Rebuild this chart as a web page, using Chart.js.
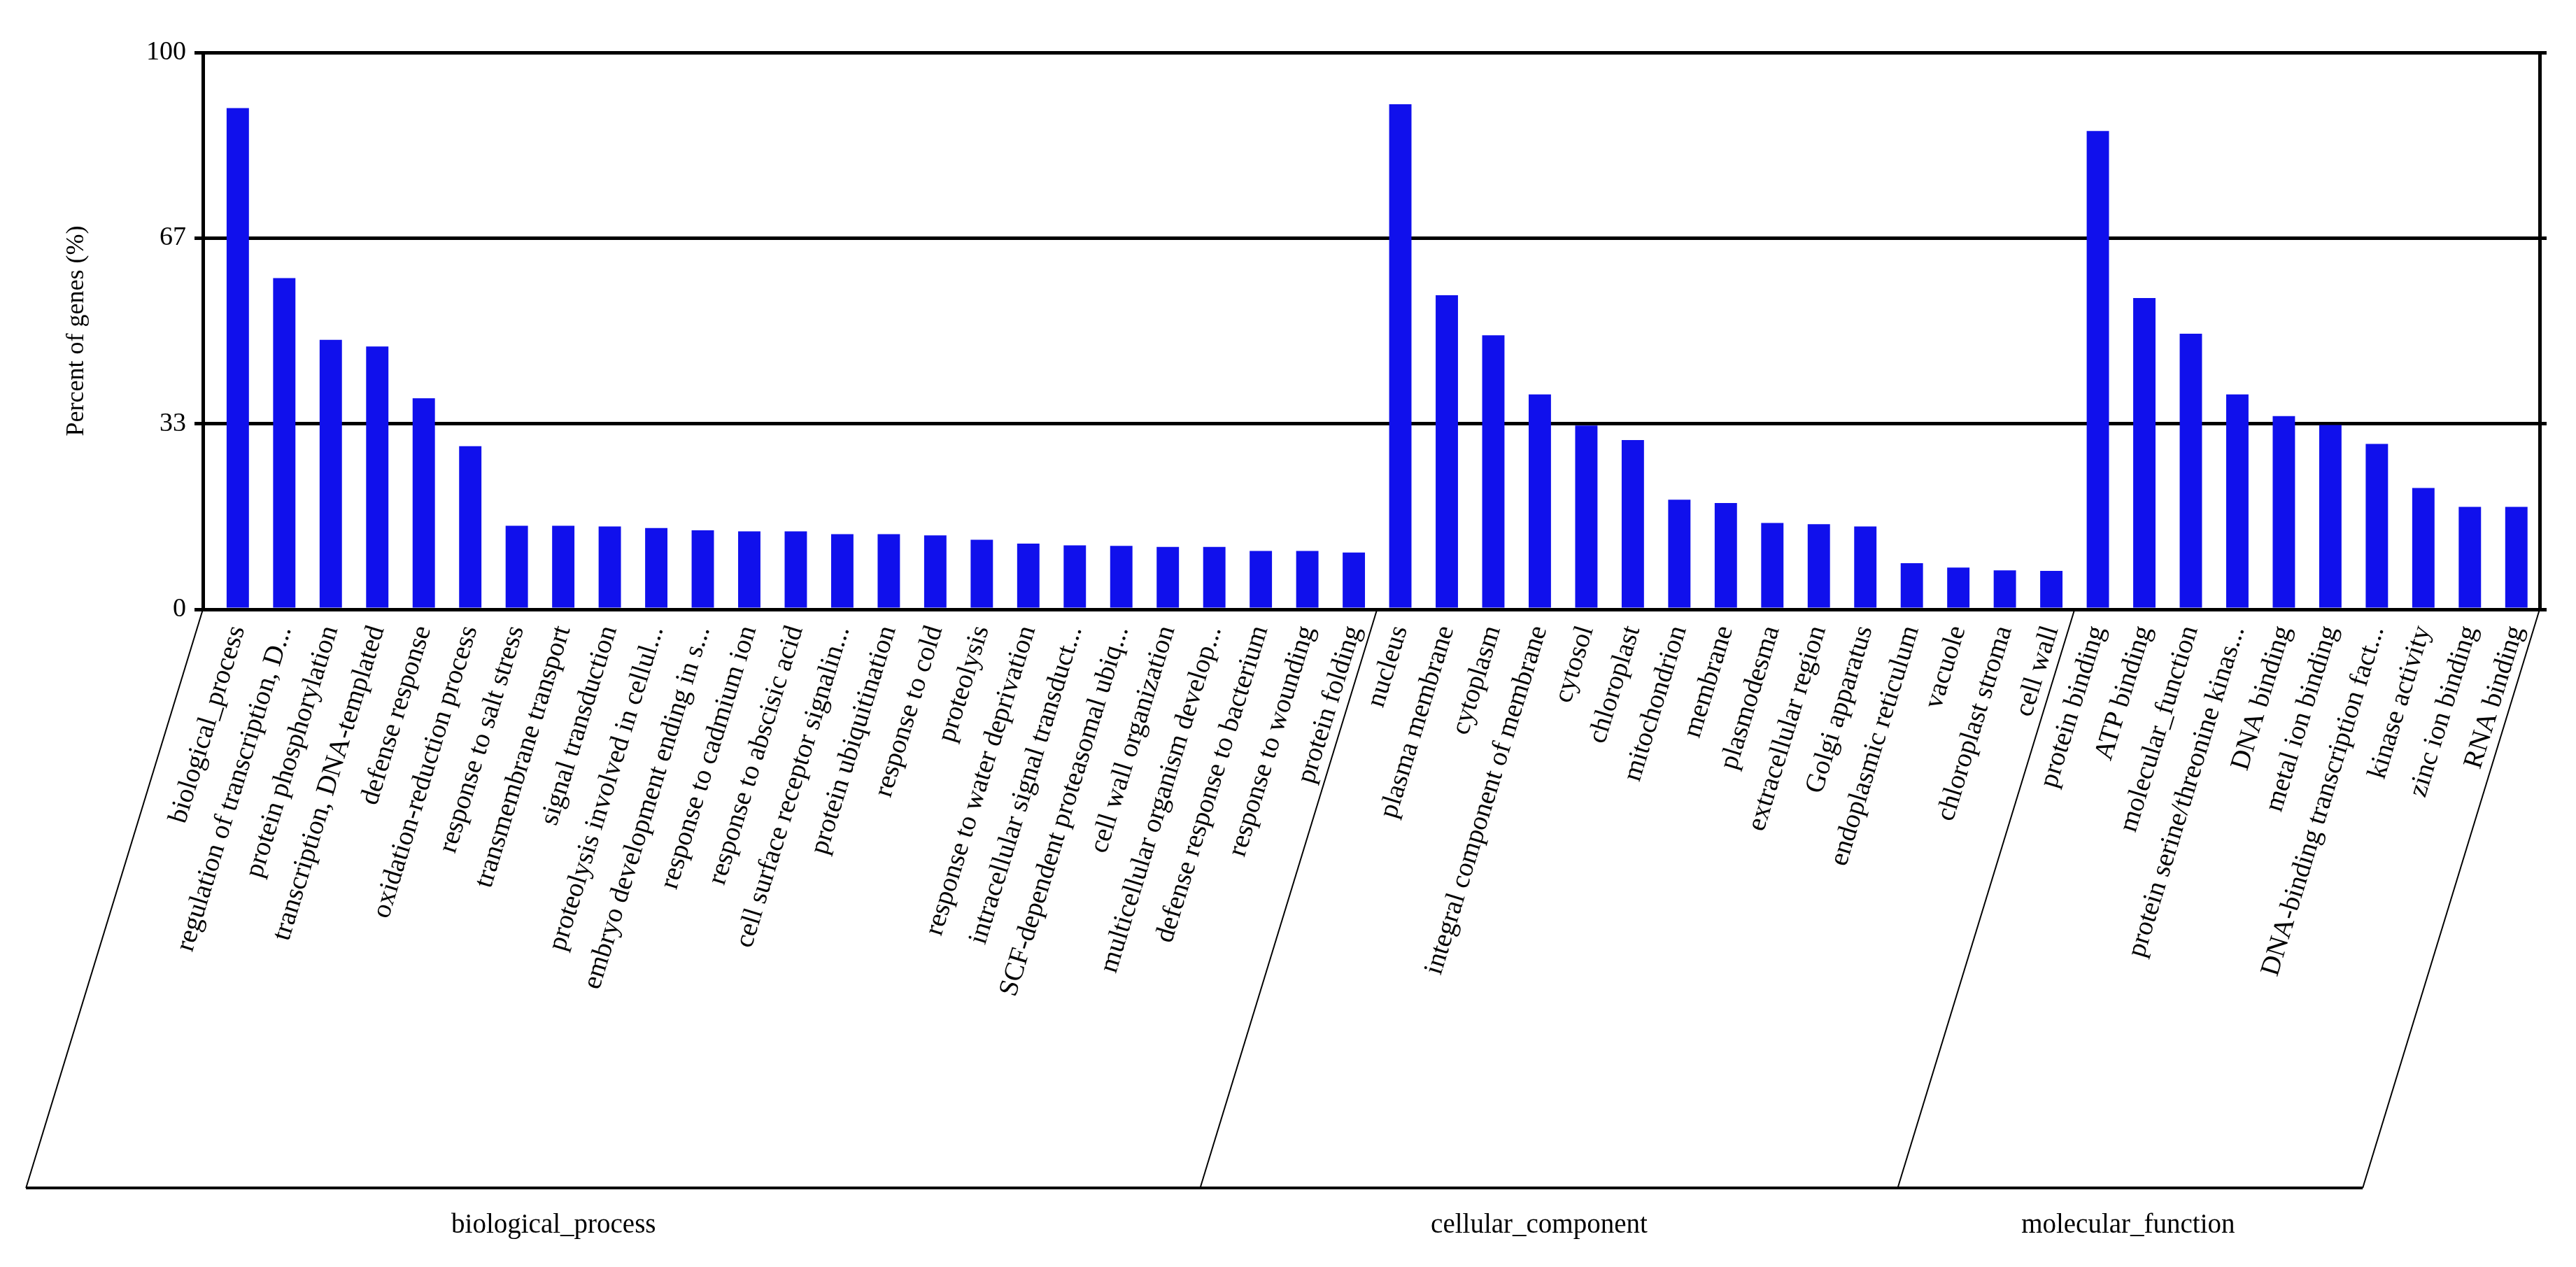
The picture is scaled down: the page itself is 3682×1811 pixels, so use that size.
<!DOCTYPE html>
<html>
<head>
<meta charset="utf-8">
<script src="https://cdn.jsdelivr.net/npm/chart.js@4.4.1/dist/chart.umd.min.js"></script>
<style>
  html, body { margin: 0; padding: 0; background: #fff; }
  canvas { display: block; }
</style>
</head>
<body>
<canvas id="goChart" width="3682" height="1811"></canvas>
<script>
// GO 분류별 항목과 비율 (%)
const bpTerms = [
    'biological_process', 'regulation of transcription, D...', 'protein phosphorylation',
    'transcription, DNA-templated', 'defense response', 'oxidation-reduction process',
    'response to salt stress', 'transmembrane transport', 'signal transduction',
    'proteolysis involved in cellul...', 'embryo development ending in s...', 'response to cadmium ion',
    'response to abscisic acid', 'cell surface receptor signalin...', 'protein ubiquitination',
    'response to cold', 'proteolysis', 'response to water deprivation',
    'intracellular signal transduct...', 'SCF-dependent proteasomal ubiq...', 'cell wall organization',
    'multicellular organism develop...', 'defense response to bacterium', 'response to wounding',
    'protein folding'
];
const bpValues = [90.0, 59.5, 48.4, 47.2, 37.9, 29.3, 15.0, 15.0, 14.9, 14.6, 14.2, 14.0, 14.0,
    13.5, 13.5, 13.3, 12.5, 11.8, 11.5, 11.4, 11.2, 11.2, 10.5, 10.5, 10.2];

const ccTerms = [
    'nucleus', 'plasma membrane', 'cytoplasm', 'integral component of membrane', 'cytosol',
    'chloroplast', 'mitochondrion', 'membrane', 'plasmodesma', 'extracellular region',
    'Golgi apparatus', 'endoplasmic reticulum', 'vacuole', 'chloroplast stroma', 'cell wall'
];
const ccValues = [90.7, 56.4, 49.2, 38.6, 33.0, 30.4, 19.7, 19.1, 15.5, 15.3, 14.9, 8.3, 7.5, 7.0, 6.9];

const mfTerms = [
    'protein binding', 'ATP binding', 'molecular_function', 'protein serine/threonine kinas...',
    'DNA binding', 'metal ion binding', 'DNA-binding transcription fact...', 'kinase activity',
    'zinc ion binding', 'RNA binding'
];
const mfValues = [85.9, 55.9, 49.5, 38.6, 34.7, 33.1, 29.7, 21.8, 18.4, 18.4];

const groupNames = ['biological_process', 'cellular_component', 'molecular_function'];

// y축 눈금 (1/3 간격, 표시는 반올림)
const yTickValues = [0, 100 / 3, 200 / 3, 100];
const yTickLabels = ['0', '33', '67', '100'];

const terms = bpTerms.concat(ccTerms, mfTerms);
const values = bpValues.concat(ccValues, mfValues);
const groupSizes = [bpTerms.length, ccTerms.length, mfTerms.length];

const SERIF = "'Liberation Serif', 'DejaVu Serif', serif";
const LABEL_ANGLE = 73; // x축 라벨 / 구분선 기울기
const groupLabelShift = [-85, -14, -3]; // 그룹 이름 가로 보정

// 아래쪽 그룹 구분 평행사변형 + 그룹 이름
const groupBrackets = {
    id: 'groupBrackets',
    afterDraw(chart) {
        const { ctx } = chart;
        const x = chart.scales.x;
        const y = chart.scales.y;
        const top = y.getPixelForValue(0);
        const bottom = 1698;
        const shift = (bottom - top) / Math.tan(LABEL_ANGLE * Math.PI / 180);

        const edges = [x.left];
        let n = 0;
        groupSizes.forEach(s => {
            n += s;
            edges.push(x.getPixelForValue(n - 0.5));
        });

        ctx.save();
        ctx.strokeStyle = '#000';
        ctx.lineWidth = 2;
        edges.forEach(e => {
            ctx.beginPath();
            ctx.moveTo(e, top);
            ctx.lineTo(e - shift, bottom);
            ctx.stroke();
        });
        ctx.lineWidth = 4;
        ctx.beginPath();
        ctx.moveTo(edges[0] - shift, bottom);
        ctx.lineTo(edges[edges.length - 1] - shift, bottom);
        ctx.stroke();

        ctx.fillStyle = '#000';
        ctx.font = '39px ' + SERIF;
        ctx.textAlign = 'center';
        ctx.textBaseline = 'middle';
        groupNames.forEach((name, i) => {
            const cx = (edges[i] + edges[i + 1]) / 2 - shift + groupLabelShift[i];
            ctx.fillText(name, cx, 1752);
        });
        ctx.restore();
    }
};

const ctx = document.getElementById('goChart').getContext('2d');
const goChart = new Chart(ctx, {
    type: 'bar',
    data: {
        datasets: [{
            data: values.map((v, i) => ({ x: i, y: v })),
            backgroundColor: '#1010ec',
            borderWidth: 0,
            barPercentage: 0.48,
            categoryPercentage: 1.0
        }]
    },
    options: {
        responsive: false,
        devicePixelRatio: 1,
        animation: false,
        layout: { padding: { top: 75, right: 42, bottom: 0, left: 0 } },
        plugins: {
            legend: { display: false },
            tooltip: { enabled: false }
        },
        scales: {
            x: {
                type: 'linear',
                offset: false,
                min: -0.75,
                max: terms.length - 0.5,
                afterBuildTicks: s => { s.ticks = terms.map((t, i) => ({ value: i })); },
                afterFit: s => { s.height = 940; },
                ticks: {
                    autoSkip: false,
                    minRotation: LABEL_ANGLE,
                    maxRotation: LABEL_ANGLE,
                    padding: 18,
                    color: '#000',
                    font: { family: SERIF, size: 39 },
                    callback: v => terms[v]
                },
                grid: { display: false, drawTicks: false, offset: false },
                border: { display: true, color: '#000', width: 5 }
            },
            y: {
                min: 0,
                max: 100,
                afterBuildTicks: s => { s.ticks = yTickValues.map(v => ({ value: v })); },
                afterFit: s => { s.width = 290; },
                ticks: {
                    color: '#000',
                    padding: 12,
                    font: { family: SERIF, size: 38 },
                    callback: (v, i) => yTickLabels[i]
                },
                grid: { color: '#000', lineWidth: 5, tickLength: 12 },
                border: { color: '#000', width: 5 },
                title: {
                    display: true,
                    text: 'Percent of genes (%)',
                    color: '#000',
                    font: { family: SERIF, size: 36, lineHeight: 1.2 },
                    padding: { top: 88, bottom: 0 }
                }
            },
            y2: {
                position: 'right',
                min: 0,
                max: 100,
                afterBuildTicks: s => { s.ticks = yTickValues.map(v => ({ value: v })); },
                afterFit: s => { s.width = 10; },
                ticks: { display: false },
                grid: { drawOnChartArea: false, color: '#000', lineWidth: 5, tickLength: 10 },
                border: { color: '#000', width: 5 }
            }
        }
    },
    plugins: [groupBrackets]
});
</script>
</body>
</html>
